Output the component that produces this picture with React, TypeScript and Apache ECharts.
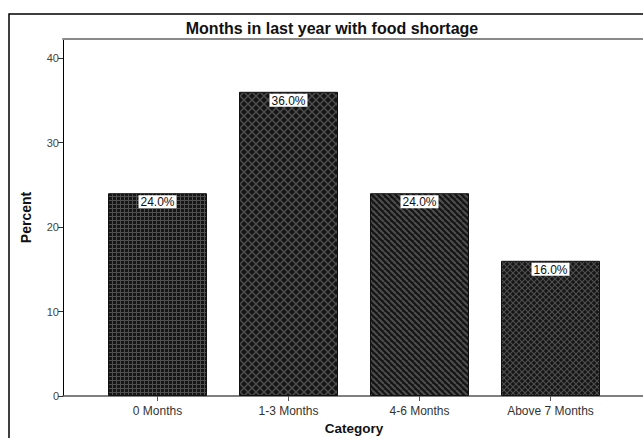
import React, { useEffect, useRef } from "react";
import * as echarts from "echarts";

const categories = ["0 Months", "1-3 Months", "4-6 Months", "Above 7 Months"];
const percents = [24.0, 36.0, 24.0, 16.0];
const yTicks = [0, 10, 20, 30, 40];
const chartTitle = "Months in last year with food shortage";
const xTitle = "Category";
const yTitle = "Percent";

function makeTile(kind: string): HTMLCanvasElement {
  const c = document.createElement("canvas");
  const s = kind === "grid" ? 4 : kind === "stripe" ? 6 : kind === "diamond" ? 8 : 6;
  c.width = s;
  c.height = s;
  const ctx = c.getContext("2d")!;
  ctx.fillStyle = "#151515";
  ctx.fillRect(0, 0, s, s);
  ctx.strokeStyle = "#4e4e4e";
  if (kind === "grid") {
    ctx.fillStyle = "#505050";
    ctx.fillRect(0, 0, s, 1);
    ctx.fillRect(0, 0, 1, s);
  } else if (kind === "stripe") {
    ctx.lineWidth = 2;
    for (const o of [-s, 0, s]) {
      ctx.beginPath();
      ctx.moveTo(o, 0);
      ctx.lineTo(o + s, s);
      ctx.stroke();
    }
  } else {
    ctx.lineWidth = kind === "diamond" ? 1.5 : 1.2;
    for (const o of [-s, 0, s]) {
      ctx.beginPath();
      ctx.moveTo(o, 0);
      ctx.lineTo(o + s, s);
      ctx.stroke();
      ctx.beginPath();
      ctx.moveTo(o + s, 0);
      ctx.lineTo(o, s);
      ctx.stroke();
    }
  }
  return c;
}

export default function App() {
  const ref = useRef<HTMLDivElement>(null);
  useEffect(() => {
    if (!ref.current) return;
    const chart = echarts.init(ref.current, null, { renderer: "svg" });
    const kinds = ["grid", "diamond", "stripe", "cross"];
    const font = "Arial, 'Liberation Sans', sans-serif";
    chart.setOption({
      animation: false,
      backgroundColor: "#ffffff",
      textStyle: { fontFamily: font },
      title: {
        text: chartTitle,
        left: 327,
        textAlign: "center",
        top: 15,
        textStyle: { fontSize: 16, fontWeight: "bold", color: "#111", fontFamily: font },
      },
      graphic: [
        {
          type: "rect",
          shape: { x: 9, y: 14, width: 660, height: 440 },
          style: { fill: "none", stroke: "#000", lineWidth: 1.5 },
          silent: true,
          z: 100,
        },
      ],
      grid: [
        { left: 63, right: 0, top: 39, bottom: 42, outerBoundsMode: "none", containLabel: false },
        { left: 92, right: 27, top: 39, bottom: 42, outerBoundsMode: "none", containLabel: false },
      ],
      xAxis: [
        {
          type: "value",
          gridIndex: 0,
          min: 0,
          max: 1,
          position: "bottom",
          axisLine: { show: true, onZero: false, lineStyle: { color: "#555", width: 1.5 } },
          axisTick: { show: false },
          axisLabel: { show: false },
          splitLine: { show: false },
        },
        {
          type: "category",
          gridIndex: 1,
          data: categories,
          axisLine: { show: false },
          axisTick: { show: true, alignWithLabel: true, length: 5, lineStyle: { color: "#555" } },
          axisLabel: { color: "#333", fontSize: 12, margin: 9, fontFamily: font },
          name: xTitle,
          nameLocation: "middle",
          nameGap: 25,
          nameTextStyle: { fontSize: 13.5, fontWeight: "bold", color: "#111", fontFamily: font },
        },
        {
          type: "value",
          gridIndex: 0,
          min: 0,
          max: 1,
          position: "top",
          axisLine: { show: true, onZero: false, lineStyle: { color: "#8a8a8a", width: 2 } },
          axisTick: { show: false },
          axisLabel: { show: false },
          splitLine: { show: false },
        },
      ],
      yAxis: [
        {
          type: "value",
          gridIndex: 0,
          min: 0,
          max: 42.25,
          interval: 10,
          axisLine: { show: true, lineStyle: { color: "#000", width: 1 } },
          axisTick: { show: true, length: 5, customValues: yTicks, lineStyle: { color: "#333" } },
          axisLabel: { color: "#444", fontSize: 11, margin: 4, customValues: yTicks, fontFamily: font },
          splitLine: { show: false },
          name: yTitle,
          nameLocation: "middle",
          nameGap: 30,
          nameTextStyle: { fontSize: 14, fontWeight: "bold", color: "#111", fontFamily: font },
        },
        {
          type: "value",
          gridIndex: 1,
          min: 0,
          max: 42.25,
          show: false,
        },
      ],
      series: [
        {
          type: "bar",
          xAxisIndex: 1,
          yAxisIndex: 1,
          barWidth: 99,
          data: percents.map((v, i) => ({
            value: v,
            itemStyle: {
              color: { image: makeTile(kinds[i]), repeat: "repeat" },
              borderColor: "#111",
              borderWidth: 1,
            },
          })),
          label: {
            show: true,
            position: "insideTop",
            distance: 2,
            formatter: (p: any) => p.value.toFixed(1) + "%",
            backgroundColor: "#fff",
            color: "#111",
            fontSize: 12,
            padding: [1, 2, 0, 2],
            fontFamily: font,
          },
        },
      ],
    });
    return () => chart.dispose();
  }, []);
  return (
    <div
      ref={ref}
      style={{ position: "fixed", left: 0, top: 0, width: 643, height: 438, background: "#fff" }}
    />
  );
}
